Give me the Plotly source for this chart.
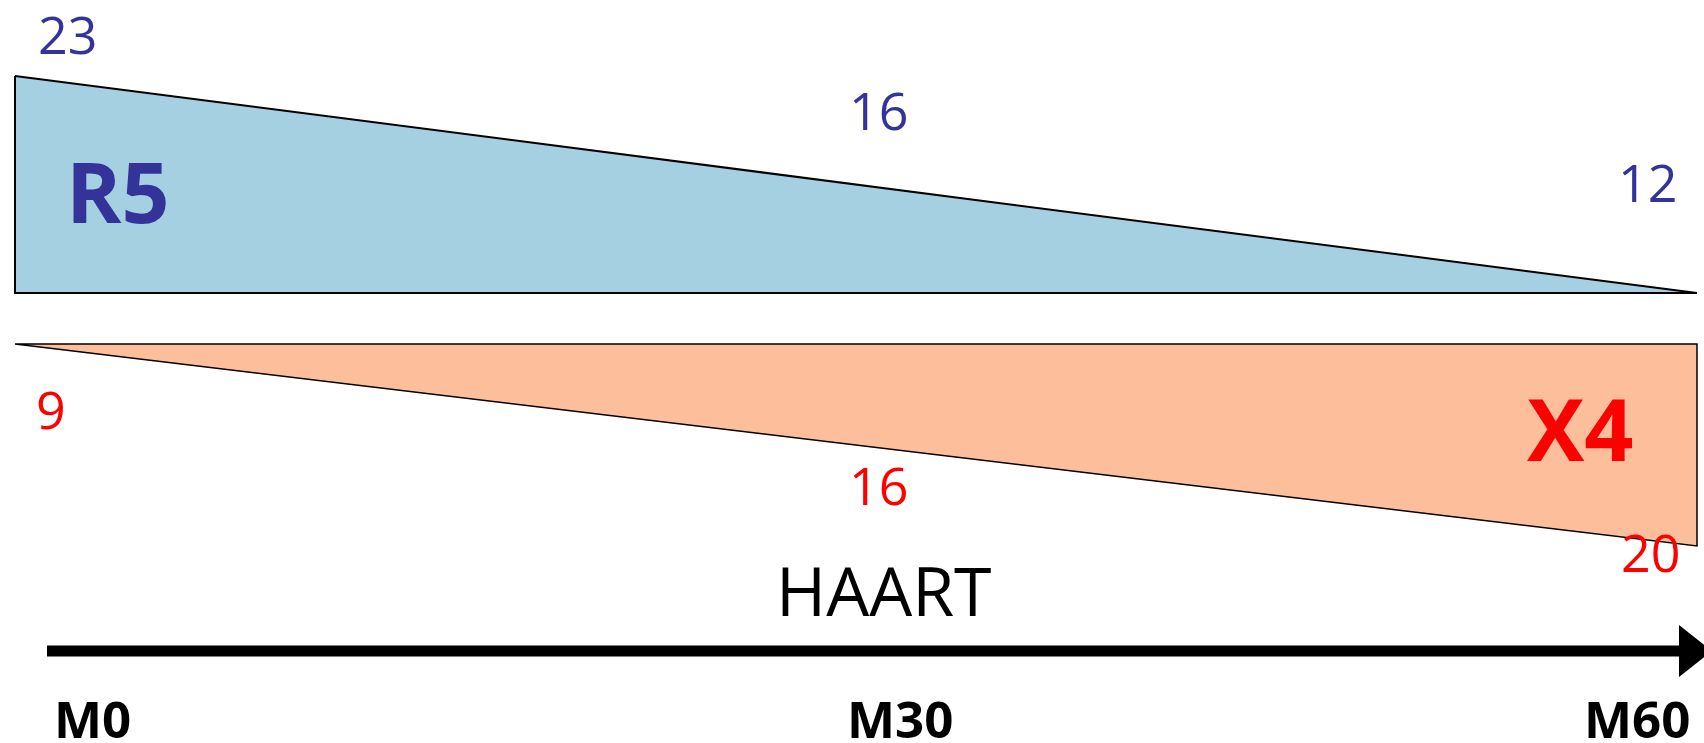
import plotly.graph_objects as go

# ---- data ----
months = [0, 30, 60]
month_labels = ["M0", "M30", "M60"]
r5_values = [23, 16, 12]
x4_values = [9, 16, 20]
r5_name = "R5"
x4_name = "X4"
arrow_label = "HAART"

# ---- style ----
BLUE_FILL = "#A5D0E2"
ORANGE_FILL = "#FDBE9C"
BLUE_TXT = "#333399"
RED_TXT = "#FF0000"
FONT = "Open Sans"

# y axis in pixel-like units (reversed), x axis in months
px_per_month = 1682 / 60.0
x_range = [-15 / px_per_month, (1704 - 15) / px_per_month]

fig = go.Figure()

m0, m60 = months[0], months[-1]
# R5 wedge (decreasing): tall at M0, zero at M60
fig.add_trace(go.Scatter(
    x=[m0, m0, m60, m0], y=[76, 293, 293, 76],
    fill="toself", fillcolor=BLUE_FILL, mode="lines",
    line=dict(color="black", width=2), hoverinfo="skip", showlegend=False))
# X4 wedge (increasing): zero at M0, tall at M60
fig.add_trace(go.Scatter(
    x=[m0, m60, m60, m0], y=[344, 344, 546, 344],
    fill="toself", fillcolor=ORANGE_FILL, mode="lines",
    line=dict(color="black", width=1.5), hoverinfo="skip", showlegend=False))

annotations = []
r5_pos = [(1.86, 33), (30.82, 109), (58.25, 181)]
for v, (x, y) in zip(r5_values, r5_pos):
    annotations.append(dict(x=x, y=y, text=str(v), showarrow=False,
                            font=dict(family=FONT, size=52, color=BLUE_TXT)))
x4_pos = [(1.28, 408), (30.82, 484), (58.35, 551)]
for v, (x, y) in zip(x4_values, x4_pos):
    annotations.append(dict(x=x, y=y, text=str(v), showarrow=False,
                            font=dict(family=FONT, size=52, color=RED_TXT)))
annotations.append(dict(x=3.67, y=190, text="<b>%s</b>" % r5_name, showarrow=False,
                        font=dict(family=FONT, size=84, color=BLUE_TXT)))
annotations.append(dict(x=55.83, y=427, text="<b>%s</b>" % x4_name, showarrow=False,
                        font=dict(family=FONT, size=86, color=RED_TXT)))
annotations.append(dict(x=31.0, y=589, text=arrow_label, showarrow=False,
                        font=dict(family=FONT, size=68, color="black")))
month_x = [2.75, 31.57, 57.85]
for lab, x in zip(month_labels, month_x):
    annotations.append(dict(x=x, y=718, text="<b>%s</b>" % lab, showarrow=False,
                            font=dict(family=FONT, size=51, color="black")))

shapes = [
    dict(type="line", xref="x", yref="y", x0=(47 - 15) / px_per_month, x1=(1682 - 15) / px_per_month,
         y0=651, y1=651, line=dict(color="black", width=11)),
    dict(type="path", xref="x", yref="y",
         path="M %f 625 L %f 651 L %f 677 Z" % ((1679 - 15) / px_per_month,
                                               (1712 - 15) / px_per_month,
                                               (1679 - 15) / px_per_month),
         fillcolor="black", line=dict(color="black", width=0)),
]

fig.update_layout(
    width=1704, height=743,
    margin=dict(l=0, r=0, t=0, b=0),
    paper_bgcolor="white", plot_bgcolor="white",
    xaxis=dict(range=x_range, visible=False, fixedrange=True),
    yaxis=dict(range=[743, 0], visible=False, fixedrange=True),
    annotations=annotations, shapes=shapes, showlegend=False,
)

fig.write_html("out.html", config={"displayModeBar": False},
               post_script="document.body.style.margin='0';document.body.style.overflow='hidden';")
